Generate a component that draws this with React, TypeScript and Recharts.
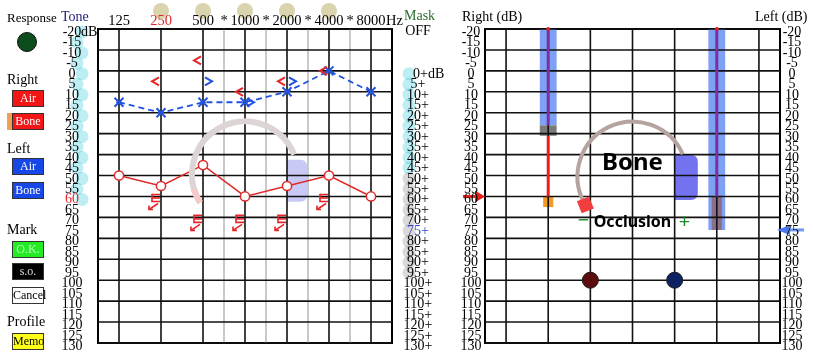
import React from "react";
import {
  ComposedChart,
  XAxis,
  YAxis,
  Line,
  ReferenceLine,
  ReferenceArea,
  ReferenceDot,
} from "recharts";

const SERIF = '"Liberation Serif", "Times New Roman", serif';
const SANS = '"Noto Sans", "DejaVu Sans", sans-serif';

// audiogram (left panel)
const freqLabels = ["125", "250", "500", "1000", "2000", "4000", "8000"];
const freqIndex = [0, 1, 2, 3, 4, 5, 6];
const rightAir = [50, 55, 45, 60, 55, 50, 60];
const leftAir = [15, 20, 15, 15, 10, 0, 10];
const rightBone = [null, 5, -5, 10, 5, 0, null];
const leftBone = [null, null, 5, 15, 5, null, null];
const rightMaskedBone = [null, 60, 70, 70, 70, 60, null];
const starredFreqs = ["1000", "2000", "4000", "8000"];
const ringedFreqs = ["250", "500", "1000", "2000", "4000"];
const halfOctaveLines = [2.5, 3.5, 4.5, 5.5];
const gridDb = [-20, -10, 0, 10, 20, 30, 40, 50, 60, 70, 80, 90, 100, 110, 120, 130];
const dbTicks = [
  -20, -15, -10, -5, 0, 5, 10, 15, 20, 25, 30, 35, 40, 45, 50, 55, 60, 65, 70, 75,
  80, 85, 90, 95, 100, 105, 110, 115, 120, 125, 130,
];
const maskTicks = [
  -20, 0, 5, 10, 15, 20, 25, 30, 35, 40, 45, 50, 55, 60, 65, 70, 75, 80, 85, 90, 95,
  100, 105, 110, 115, 120, 125, 130,
];

// bone / occlusion panel (right)
const rightEarBar = [-20, 26, 31, 60, 65]; // blue top, gray start, gray end / red start, orange start, orange end
const leftEarBar = [-20, 60, 76]; // blue top, gray start, bottom
const earBarCols = [1, 5];
const occlusionDb = [null, null, 100, null, 100, null, null];
const rightArrowDb = 60;
const leftArrowDb = 76;

const audioData = freqIndex.map((i) => ({
  x: i,
  rightAir: rightAir[i],
  leftAir: leftAir[i],
  rightBone: rightBone[i],
  leftBone: leftBone[i],
  rightMaskedBone: rightMaskedBone[i],
}));
const panelData = freqIndex.map((i) => ({ x: i, occ: occlusionDb[i] }));

const empty = <g />;

function AirO(props: any) {
  const { cx, cy, value } = props;
  if (cy == null || value == null) return empty;
  return <circle cx={cx} cy={cy} r={4.6} fill="#fff" stroke="#dd2a2a" strokeWidth={1.5} />;
}

function AirX(props: any) {
  const { cx, cy, value } = props;
  if (cy == null || value == null) return empty;
  const d = 4.5;
  return (
    <g stroke="#2152e0" strokeWidth={2}>
      <line x1={cx - d} y1={cy - d} x2={cx + d} y2={cy + d} />
      <line x1={cx - d} y1={cy + d} x2={cx + d} y2={cy - d} />
      <line x1={cx - 3} y1={cy} x2={cx + 3} y2={cy} strokeWidth={1.2} />
    </g>
  );
}

function BoneLt(props: any) {
  const { cx, cy, value } = props;
  if (cy == null || value == null) return empty;
  return (
    <polyline
      points={`${cx - 2},${cy - 4} ${cx - 9},${cy} ${cx - 2},${cy + 4}`}
      fill="none"
      stroke="#e3262a"
      strokeWidth={2}
    />
  );
}

function BoneGt(props: any) {
  const { cx, cy, value } = props;
  if (cy == null || value == null) return empty;
  return (
    <polyline
      points={`${cx + 2},${cy - 4} ${cx + 9},${cy} ${cx + 2},${cy + 4}`}
      fill="none"
      stroke="#2152e0"
      strokeWidth={2}
    />
  );
}

function MaskedBracket(props: any) {
  const { cx, cy, value } = props;
  if (cy == null || value == null) return empty;
  const l = cx - 9;
  const r = cx - 1;
  return (
    <g stroke="#e3262a" strokeWidth={1.6} fill="none">
      <polyline points={`${r},${cy - 2} ${l},${cy - 2} ${l},${cy + 5} ${r},${cy + 5}`} />
      <line x1={l} y1={cy + 1.5} x2={r} y2={cy + 1.5} />
      <line x1={cx - 3} y1={cy + 7} x2={cx - 12} y2={cy + 13} />
      <polyline points={`${cx - 12},${cy + 9} ${cx - 12},${cy + 13} ${cx - 8},${cy + 13}`} />
    </g>
  );
}

function OccDot(props: any) {
  const { cx, cy, value, index } = props;
  if (cy == null || value == null) return empty;
  return (
    <circle cx={cx} cy={cy} r={8} fill={index < 3 ? "#5c0c0c" : "#0c2262"} stroke="#1a1a1a" strokeWidth={1} />
  );
}

function arcPath(cx: number, cy: number, r: number, a0: number, a1: number) {
  const p = (a: number) => [cx + r * Math.cos((a * Math.PI) / 180), cy - r * Math.sin((a * Math.PI) / 180)];
  const [x0, y0] = p(a0);
  const [x1, y1] = p(a1);
  const large = a0 - a1 > 180 ? 1 : 0;
  return `M${x0},${y0} A${r},${r} 0 ${large} 1 ${x1},${y1}`;
}

function RoundRight(props: any) {
  const { x, y, width, height, fill } = props;
  const r = 7;
  const d = `M${x},${y} H${x + width - r} Q${x + width},${y} ${x + width},${y + r} V${y + height - r} Q${x + width},${y + height} ${x + width - r},${y + height} H${x} Z`;
  return <path d={d} fill={fill} />;
}

function FreqTick(props: any) {
  const { x, payload } = props;
  const label = freqLabels[payload.value];
  return (
    <g fontFamily={SERIF} fontSize={14.5}>
      {ringedFreqs.includes(label) && <circle cx={x} cy={11} r={8} fill="#d9d4ae" />}
      {starredFreqs.includes(label) && (
        <text x={x - 21} y={25} textAnchor="middle">*</text>
      )}
      <text x={x} y={25} textAnchor="middle" fill={label === "250" ? "#e3262a" : "#000"}>
        {label}
      </text>
      {label === "8000" && <text x={x + 15} y={25}>Hz</text>}
    </g>
  );
}

function LeftDbTick(props: any) {
  const { y, payload } = props;
  const v = payload.value;
  return (
    <g fontFamily={SERIF} fontSize={14}>
      {v <= 60 && (
        <circle cx={v % 10 === 0 ? 82 : 77} cy={y + 3} r={6.5} fill="#bdeef3" style={{ mixBlendMode: "multiply" }} />
      )}
      <text x={72} y={y + 7} textAnchor="middle" fill={v === 60 ? "#e3262a" : "#000"}>
        {v}
      </text>
      {v === -20 && <text x={81} y={y + 7}>dB</text>}
    </g>
  );
}

function MaskTick(props: any) {
  const { y, payload } = props;
  const v = payload.value;
  if (v === -20) {
    return (
      <text x={418} y={y + 6} textAnchor="middle" fontFamily={SERIF} fontSize={14}>
        OFF
      </text>
    );
  }
  return (
    <g fontFamily={SERIF} fontSize={14}>
      {v < 100 && (
        <circle cx={409} cy={y + 3} r={6.5} fill={v < 50 ? "#bdeef3" : "#dadada"} style={{ mixBlendMode: "multiply" }} />
      )}
      {v === 0 ? (
        <text x={413} y={y + 7}>0+dB</text>
      ) : (
        <text x={418} y={y + 7} textAnchor="middle" fill={v === 75 ? "#3344cc" : "#000"}>
          {v}+
        </text>
      )}
    </g>
  );
}

function PanelTick(props: any) {
  const { y, payload, cx } = props;
  return (
    <text x={cx} y={y + 7} textAnchor="middle" fontFamily={SERIF} fontSize={14}>
      {payload.value}
    </text>
  );
}

function Txt({ x, y, size = 14, color = "#000", children }: any) {
  return (
    <div
      style={{
        position: "absolute",
        left: x,
        top: y - size * 0.84,
        fontSize: size,
        lineHeight: 1,
        color,
        whiteSpace: "nowrap",
        fontFamily: SERIF,
      }}
    >
      {children}
    </div>
  );
}

function Btn({ x, y, bg, color, label, border = "#333" }: any) {
  return (
    <div
      style={{
        position: "absolute",
        left: x,
        top: y,
        width: 32,
        height: 17,
        boxSizing: "border-box",
        background: bg,
        border: `1px solid ${border}`,
        color,
        fontSize: 12,
        lineHeight: "15px",
        textAlign: "center",
        fontFamily: SERIF,
      }}
    >
      {label}
    </div>
  );
}

function Audiogram() {
  return (
    <ComposedChart width={450} height={360} data={audioData} margin={{ top: 0, right: 0, bottom: 17, left: 0 }}>
      <XAxis
        dataKey="x"
        type="number"
        domain={[-0.5, 6.5]}
        ticks={freqIndex}
        interval={0}
        orientation="top"
        height={29}
        axisLine={false}
        tickLine={false}
        tick={<FreqTick />}
      />
      <YAxis
        yAxisId="db"
        type="number"
        domain={[-20, 130]}
        reversed
        ticks={dbTicks}
        interval={0}
        width={98}
        axisLine={false}
        tickLine={false}
        tick={<LeftDbTick />}
      />
      <YAxis
        yAxisId="mask"
        orientation="right"
        type="number"
        domain={[-20, 130]}
        reversed
        ticks={maskTicks}
        interval={0}
        width={58}
        axisLine={false}
        tickLine={false}
        tick={<MaskTick />}
      />
      {halfOctaveLines.map((v) => (
        <ReferenceLine key={"h" + v} yAxisId="db" x={v} stroke="#bcbcbc" strokeWidth={1.6} />
      ))}
      {freqIndex.map((v) => (
        <ReferenceLine key={"f" + v} yAxisId="db" x={v} stroke="#111" strokeWidth={1.6} />
      ))}
      {gridDb.map((v) => (
        <ReferenceLine key={"g" + v} yAxisId="db" y={v} stroke="#111" strokeWidth={1.6} />
      ))}
      <ReferenceArea yAxisId="db" x1={-0.5} x2={6.5} y1={-20} y2={130} fill="none" stroke="#000" strokeWidth={2} />
      <ReferenceDot
        yAxisId="db"
        x={3}
        y={49.5}
        shape={(p: any) => (
          <g fill="none" strokeWidth={6}>
            <path d={arcPath(p.cx, p.cy, 53, 212, 22)} stroke="#ddd5d5" />
            <path d={arcPath(p.cx, p.cy, 53, 212, 196)} stroke="#f7c8c8" />
          </g>
        )}
      />
      <ReferenceArea
        yAxisId="db"
        x1={4}
        x2={4.48}
        y1={42.5}
        y2={62.5}
        fill="#c9c9f5"
        fillOpacity={1}
        shape={<RoundRight />}
      />
      <Line
        yAxisId="db"
        dataKey="rightAir"
        stroke="#dd2a2a"
        strokeWidth={1.5}
        dot={<AirO />}
        isAnimationActive={false}
      />
      <Line
        yAxisId="db"
        dataKey="leftAir"
        stroke="#2152e0"
        strokeWidth={1.8}
        strokeDasharray="6 4"
        dot={<AirX />}
        isAnimationActive={false}
      />
      <Line yAxisId="db" dataKey="rightBone" stroke="none" dot={<BoneLt />} isAnimationActive={false} />
      <Line yAxisId="db" dataKey="leftBone" stroke="none" dot={<BoneGt />} isAnimationActive={false} />
      <Line yAxisId="db" dataKey="rightMaskedBone" stroke="none" dot={<MaskedBracket />} isAnimationActive={false} />
      {/* keeps the masking axis bound to the data */}
      <Line yAxisId="mask" dataKey="rightAir" stroke="none" dot={false} isAnimationActive={false} />
    </ComposedChart>
  );
}

function BonePanel() {
  const [rTop, rGray, rRed, rOrange, rEnd] = rightEarBar;
  const [lTop, lGray, lEnd] = leftEarBar;
  const [rc, lc] = earBarCols;
  return (
    <ComposedChart width={363} height={360} data={panelData} margin={{ top: 29, right: 0, bottom: 17, left: 0 }}>
      <XAxis dataKey="x" type="number" domain={[-0.5, 6.5]} hide />
      <YAxis
        yAxisId="r"
        type="number"
        domain={[-20, 130]}
        reversed
        ticks={dbTicks}
        interval={0}
        width={35}
        axisLine={false}
        tickLine={false}
        tick={<PanelTick cx={21} />}
      />
      <YAxis
        yAxisId="l"
        orientation="right"
        type="number"
        domain={[-20, 130]}
        reversed
        ticks={dbTicks}
        interval={0}
        width={33}
        axisLine={false}
        tickLine={false}
        tick={<PanelTick cx={342} />}
      />
      {freqIndex.map((v) => (
        <ReferenceLine key={"f" + v} yAxisId="r" x={v} stroke="#111" strokeWidth={1.6} />
      ))}
      {gridDb.map((v) => (
        <ReferenceLine key={"g" + v} yAxisId="r" y={v} stroke="#111" strokeWidth={1.6} />
      ))}
      <ReferenceArea yAxisId="r" x1={-0.5} x2={6.5} y1={-20} y2={130} fill="none" stroke="#000" strokeWidth={2} />

      {/* right ear bar */}
      <ReferenceArea yAxisId="r" x1={rc - 0.2} x2={rc + 0.2} y1={rTop} y2={rGray} fill="#7fa1f4" fillOpacity={1} />
      <ReferenceArea yAxisId="r" x1={rc - 0.2} x2={rc + 0.2} y1={rGray} y2={rRed} fill="#7b7b7b" fillOpacity={1} />
      <ReferenceLine yAxisId="r" segment={[{ x: rc, y: rTop }, { x: rc, y: rGray }]} stroke="#7a2fa6" strokeWidth={3} />
      <ReferenceLine yAxisId="r" segment={[{ x: rc, y: rRed }, { x: rc, y: rOrange }]} stroke="#ee1c1c" strokeWidth={3} />
      <ReferenceArea yAxisId="r" x1={rc - 0.12} x2={rc + 0.12} y1={rOrange} y2={rEnd} fill="#f59a1e" fillOpacity={1} />
      <ReferenceDot yAxisId="r" x={rc} y={rTop} r={2} fill="#e02020" stroke="none" />

      {/* left ear bar */}
      <ReferenceArea yAxisId="r" x1={lc - 0.2} x2={lc + 0.2} y1={lTop} y2={lEnd} fill="#7fa1f4" fillOpacity={1} />
      <ReferenceLine yAxisId="r" segment={[{ x: lc, y: lTop }, { x: lc, y: lGray }]} stroke="#7a2fa6" strokeWidth={3} />
      <ReferenceArea yAxisId="r" x1={lc - 0.12} x2={lc + 0.12} y1={lGray} y2={lEnd} fill="#8c6f86" fillOpacity={1} />
      <ReferenceDot yAxisId="r" x={lc} y={lTop} r={2} fill="#e02020" stroke="none" />

      <ReferenceDot
        yAxisId="r"
        x={3}
        y={50.5}
        shape={(p: any) => {
          const a = (211 * Math.PI) / 180;
          const sx = p.cx + 55 * Math.cos(a);
          const sy = p.cy - 55 * Math.sin(a);
          return (
            <g>
              <path d={arcPath(p.cx, p.cy, 55, 208, 24)} stroke="#b4a39f" strokeWidth={4} fill="none" />
              <rect x={sx - 6.5} y={sy - 6.5} width={13} height={13} fill="#f23d3d" transform={`rotate(-22 ${sx} ${sy})`} />
            </g>
          );
        }}
      />
      <ReferenceArea
        yAxisId="r"
        x1={4}
        x2={4.55}
        y1={40.2}
        y2={61.7}
        fill="#7373f0"
        fillOpacity={1}
        shape={<RoundRight />}
      />
      <ReferenceDot
        yAxisId="r"
        x={3}
        y={45}
        shape={(p: any) => (
          <text x={p.cx} y={p.cy + 5} textAnchor="middle" fontFamily={SANS} fontWeight={700} fontSize={24}>
            Bone
          </text>
        )}
      />
      <ReferenceDot
        yAxisId="r"
        x={3}
        y={70}
        shape={(p: any) => (
          <g fontFamily={SANS} fontWeight={700} fontSize={16}>
            <text x={p.cx} y={p.cy + 10} textAnchor="middle" fill="#000">
              Occlusion
            </text>
            <text x={p.cx - 49} y={p.cy + 10} textAnchor="middle" fill="#1f8a2a" fontSize={20} fontWeight={400}>
              −
            </text>
            <text x={p.cx + 52} y={p.cy + 11} textAnchor="middle" fill="#1f8a2a" fontSize={20} fontWeight={400}>
              +
            </text>
          </g>
        )}
      />
      <Line yAxisId="r" dataKey="occ" stroke="none" dot={<OccDot />} isAnimationActive={false} />
      <Line yAxisId="l" dataKey="occ" stroke="none" dot={false} isAnimationActive={false} />
      <ReferenceDot
        yAxisId="r"
        x={-0.5}
        y={rightArrowDb}
        shape={(p: any) => (
          <g>
            <line x1={p.cx - 22} y1={p.cy} x2={p.cx - 8} y2={p.cy} stroke="#e8201c" strokeWidth={3} />
            <path d={`M${p.cx - 10},${p.cy - 6} L${p.cx},${p.cy} L${p.cx - 10},${p.cy + 6} Z`} fill="#e8201c" />
          </g>
        )}
      />
      <ReferenceDot
        yAxisId="r"
        x={6.5}
        y={leftArrowDb}
        shape={(p: any) => (
          <g>
            <line x1={p.cx + 8} y1={p.cy} x2={p.cx + 24} y2={p.cy} stroke="#6f98f4" strokeWidth={3} />
            <path d={`M${p.cx + 10},${p.cy - 5} L${p.cx - 3},${p.cy} L${p.cx + 10},${p.cy + 5} Z`} fill="#4a78ee" />
          </g>
        )}
      />
    </ComposedChart>
  );
}

export default function App() {
  return (
    <div
      style={{
        position: "absolute",
        left: 0,
        top: 0,
        width: 813,
        height: 360,
        background: "#fff",
        overflow: "hidden",
        fontFamily: SERIF,
      }}
    >
      <div style={{ position: "absolute", left: 0, top: 0 }}>
        <Audiogram />
      </div>
      <div style={{ position: "absolute", left: 450, top: 0 }}>
        <BonePanel />
      </div>

      <Txt x={7} y={22} size={13}>Response</Txt>
      <div
        style={{
          position: "absolute",
          left: 17,
          top: 32,
          width: 20,
          height: 20,
          borderRadius: "50%",
          background: "#0d4c1d",
          border: "1.5px solid #111",
          boxSizing: "border-box",
        }}
      />
      <Txt x={61} y={22} color="#1d1d7a">Tone</Txt>
      <Txt x={404} y={21} color="#2d6e2d">Mask</Txt>
      <Txt x={462} y={22}>Right (dB)</Txt>
      <Txt x={755} y={22}>Left (dB)</Txt>

      <Txt x={7} y={85}>Right</Txt>
      <Btn x={12} y={90} bg="#f21616" color="#fff" label="Air" />
      <div style={{ position: "absolute", left: 7, top: 113, width: 6, height: 17, background: "#f0a050" }} />
      <Btn x={12} y={113} bg="#f21616" color="#fff" label="Bone" />

      <Txt x={7} y={154}>Left</Txt>
      <Btn x={12} y={158} bg="#1747e6" color="#fff" label="Air" />
      <Btn x={12} y={182} bg="#1747e6" color="#fff" label="Bone" />

      <Txt x={7} y={235}>Mark</Txt>
      <Btn x={12} y={241} bg="#24ec24" color="#b8ffb8" label="O.K." />
      <Btn x={12} y={263} bg="#000" color="#ddd" label="s.o." />
      <Btn x={12} y={287} bg="#fff" color="#000" label="Cancel" />

      <Txt x={7} y={327}>Profile</Txt>
      <Btn x={12} y={333} bg="#ffff1a" color="#000" label="Memo" />
    </div>
  );
}
